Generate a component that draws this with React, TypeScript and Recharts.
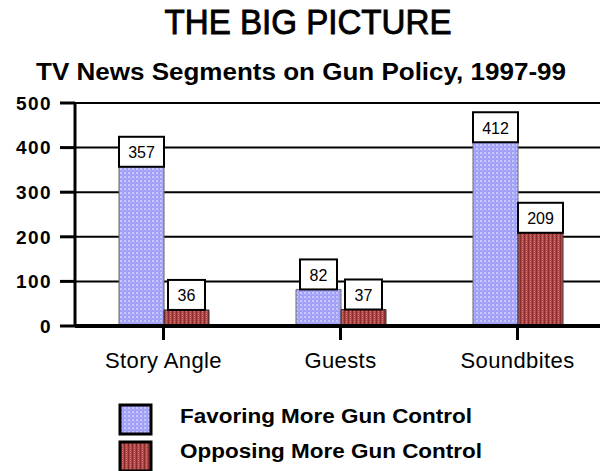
import React from 'react';
import { BarChart, Bar, XAxis, YAxis, CartesianGrid, LabelList } from 'recharts';

const categories = ['Story Angle', 'Guests', 'Soundbites'];
const favoring = [357, 82, 412];
const opposing = [36, 37, 209];
const yTicks = [0, 100, 200, 300, 400, 500];
const seriesNames = ['Favoring More Gun Control', 'Opposing More Gun Control'];
const title = 'THE BIG PICTURE';
const subtitle = 'TV News Segments on Gun Policy, 1997-99';

const data = categories.map((c, i) => ({ category: c, favoring: favoring[i], opposing: opposing[i] }));

const FONT = '"Liberation Sans", Arial, sans-serif';

const ValueBox = (props: any) => {
  const { x, y, width, value } = props;
  const bw = value >= 100 ? 45 : 37;
  const cx = x + width / 2;
  const h = 30;
  return (
    <g>
      <rect x={cx - bw / 2} y={y - h} width={bw} height={h} fill="#fff" stroke="#000" strokeWidth={2} />
      <text x={cx} y={y - h / 2 + 1} textAnchor="middle" dominantBaseline="central" fontFamily={FONT} fontSize={16} fill="#000">
        {value}
      </text>
    </g>
  );
};

const XTick = (props: any) => {
  const { x, y, payload } = props;
  return (
    <text x={x} y={y} dy="0.71em" textAnchor="middle" fontFamily={FONT} fontSize={22} letterSpacing={0.4} fill="#000">
      {payload.value}
    </text>
  );
};

const YTick = (props: any) => {
  const { x, y, payload } = props;
  return (
    <text x={x} y={y} dy="0.36em" textAnchor="end" fontFamily={FONT} fontSize={19} fontWeight="bold" letterSpacing={1.4} fill="#000">
      {payload.value}
    </text>
  );
};

const PatternDefs = ({ suffix }: { suffix: string }) => (
  <defs>
    <pattern id={'patBlue' + suffix} width="4" height="4" patternUnits="userSpaceOnUse">
      <rect width="4" height="4" fill="#a0a0fa" />
      <rect x="0" y="0" width="2" height="2" fill="#c8c8ff" />
      <rect x="2" y="2" width="1" height="1" fill="#bcbcff" />
    </pattern>
    <pattern id={'patRed' + suffix} width="4" height="4" patternUnits="userSpaceOnUse">
      <rect width="4" height="4" fill="#b44646" />
      <rect x="0" y="0" width="1" height="4" fill="#8a2c2c" />
      <rect x="2" y="1" width="1" height="1" fill="#d47676" />
      <rect x="2" y="3" width="1" height="1" fill="#d47676" />
    </pattern>
  </defs>
);

export default function App() {
  return (
    <div style={{ position: 'absolute', left: 0, top: 0, width: 600, height: 471, overflow: 'hidden', background: '#fff' }}>
      <svg width={600} height={100} style={{ position: 'absolute', left: 0, top: 0 }}>
        <text x={308} y={34} textAnchor="middle" fontFamily={FONT} fontSize={35} stroke="#000" strokeWidth={0.9} textLength={287} lengthAdjust="spacingAndGlyphs" fill="#000">
          {title}
        </text>
        <text x={301} y={80} textAnchor="middle" fontFamily={FONT} fontSize={23} fontWeight="bold" textLength={530} lengthAdjust="spacingAndGlyphs" fill="#000">
          {subtitle}
        </text>
      </svg>
      <div style={{ position: 'absolute', left: 0, top: 0 }}>
        <BarChart
          width={610}
          height={471}
          data={data}
          margin={{ top: 103, right: 4, bottom: 105, left: 0 }}
          barGap={0}
        >
          <PatternDefs suffix="" />
          <CartesianGrid horizontal={true} vertical={false} stroke="#000" strokeWidth={2} strokeOpacity={1} />
          <XAxis
            dataKey="category"
            height={40}
            axisLine={{ stroke: '#000', strokeWidth: 4 }}
            tickLine={{ stroke: '#000', strokeWidth: 3 }}
            tickSize={14}
            tickMargin={12}
            tick={<XTick />}
            interval={0}
          />
          <YAxis
            width={75}
            domain={[0, 500]}
            ticks={yTicks}
            interval={0}
            axisLine={{ stroke: '#000', strokeWidth: 3 }}
            tickLine={{ stroke: '#000', strokeWidth: 3 }}
            tickSize={15}
            tickMargin={8}
            tick={<YTick />}
          />
          <Bar dataKey="favoring" name={seriesNames[0]} fill="url(#patBlue)" stroke="#666" strokeWidth={1} barSize={45} isAnimationActive={false}>
            <LabelList dataKey="favoring" content={<ValueBox />} />
          </Bar>
          <Bar dataKey="opposing" name={seriesNames[1]} fill="url(#patRed)" stroke="#333" strokeWidth={1} barSize={45} isAnimationActive={false}>
            <LabelList dataKey="opposing" content={<ValueBox />} />
          </Bar>
        </BarChart>
      </div>
      <svg width={600} height={76} style={{ position: 'absolute', left: 0, top: 395 }}>
        <PatternDefs suffix="2" />
        <rect x={120} y={10} width={31} height={29} fill="url(#patBlue2)" stroke="#000" strokeWidth={3} />
        <rect x={120} y={47} width={31} height={29} fill="url(#patRed2)" stroke="#000" strokeWidth={3} />
        <text x={180} y={28} fontFamily={FONT} fontSize={20} fontWeight="bold" textLength={292} lengthAdjust="spacingAndGlyphs" fill="#000">
          {seriesNames[0]}
        </text>
        <text x={180} y={63} fontFamily={FONT} fontSize={20} fontWeight="bold" textLength={302} lengthAdjust="spacingAndGlyphs" fill="#000">
          {seriesNames[1]}
        </text>
      </svg>
    </div>
  );
}
